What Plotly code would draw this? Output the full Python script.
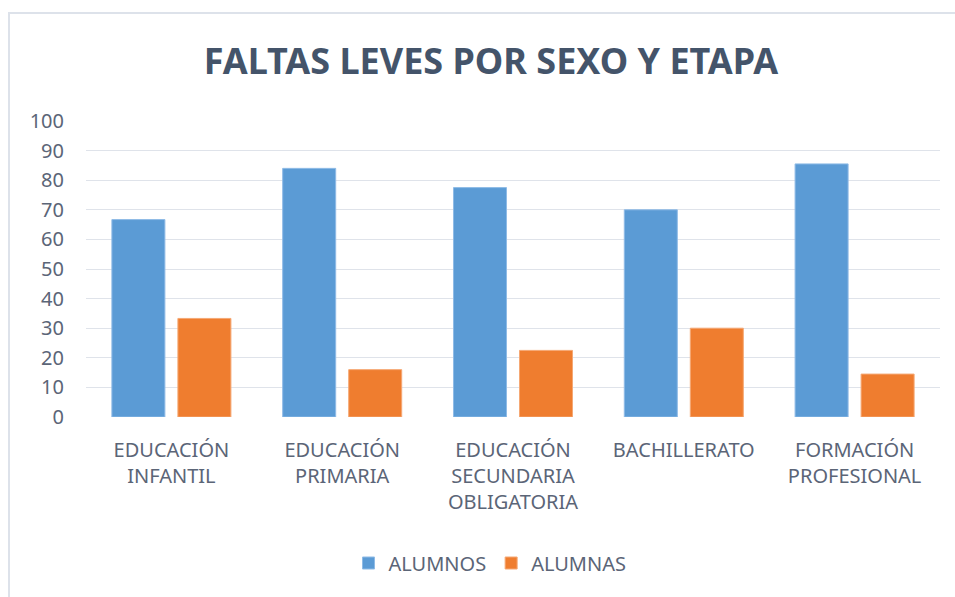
import plotly.graph_objects as go

categories = [
    "EDUCACIÓN<br>INFANTIL",
    "EDUCACIÓN<br>PRIMARIA",
    "EDUCACIÓN<br>SECUNDARIA<br>OBLIGATORIA",
    "BACHILLERATO",
    "FORMACIÓN<br>PROFESIONAL",
]
alumnos = [66.7, 84, 77.5, 70, 85.5]
alumnas = [33.3, 16, 22.5, 30, 14.5]
y_ticks = [0, 10, 20, 30, 40, 50, 60, 70, 80, 90, 100]

FONT = "Noto Sans, Liberation Sans, sans-serif"
TXT = "#5b6577"

fig = go.Figure()
fig.add_trace(go.Bar(
    x=categories, y=alumnos, name="ALUMNOS",
    marker=dict(color="#5b9bd5", line=dict(color="#8fbbe6", width=1)),
))
fig.add_trace(go.Bar(
    x=categories, y=alumnas, name="ALUMNAS",
    marker=dict(color="#ef7d2f", line=dict(color="#f5a874", width=1)),
))

W, H = 955, 597
L, R, T, B = 86, 15, 121, 180
pw, ph = W - L - R, H - T - B

def px_to_paper_x(px):
    return (px - L) / pw

def px_to_paper_y(py):
    return (H - B - py) / ph

fig.update_layout(
    width=W, height=H,
    margin=dict(l=L, r=R, t=T, b=B, pad=0),
    paper_bgcolor="white", plot_bgcolor="white",
    font=dict(family=FONT, size=20, color=TXT),
    title=dict(
        text="<b>FALTAS LEVES POR SEXO Y ETAPA</b>",
        font=dict(family=FONT, size=36, color="#44546a"),
        x=491 / W, xanchor="center", xref="container",
        y=1 - 61 / H, yanchor="middle", yref="container",
    ),
    barmode="group", bargap=0.227, bargroupgap=0.197,
    showlegend=True,
    legend=dict(
        orientation="h", x=490 / W, xanchor="center", xref="container",
        y=1 - 563 / H, yanchor="middle", yref="container",
        font=dict(family=FONT, size=20, color=TXT),
        traceorder="normal", itemclick=False,
    ),
    xaxis=dict(
        showgrid=False, showline=False, zeroline=False, ticks="",
        tickfont=dict(family=FONT, size=20, color=TXT),
        ticklabelstandoff=19,
    ),
    yaxis=dict(
        range=[0, 100], tickvals=y_ticks, showgrid=True,
        gridcolor="#dfe3ea", gridwidth=1.3, zeroline=False,
        showline=False, ticks="",
        tickfont=dict(family=FONT, size=20, color=TXT),
        ticklabelstandoff=21,
    ),
    shapes=[dict(
        type="rect", xref="paper", yref="paper",
        x0=px_to_paper_x(9), x1=px_to_paper_x(980),
        y0=px_to_paper_y(620), y1=px_to_paper_y(13),
        line=dict(color="#dde2ea", width=2), fillcolor="rgba(0,0,0,0)",
        layer="below",
    )],
)

fig.write_html(
    "out.html",
    config={"displayModeBar": False},
    post_script="document.body.style.margin='0';document.body.style.overflow='hidden';",
)
